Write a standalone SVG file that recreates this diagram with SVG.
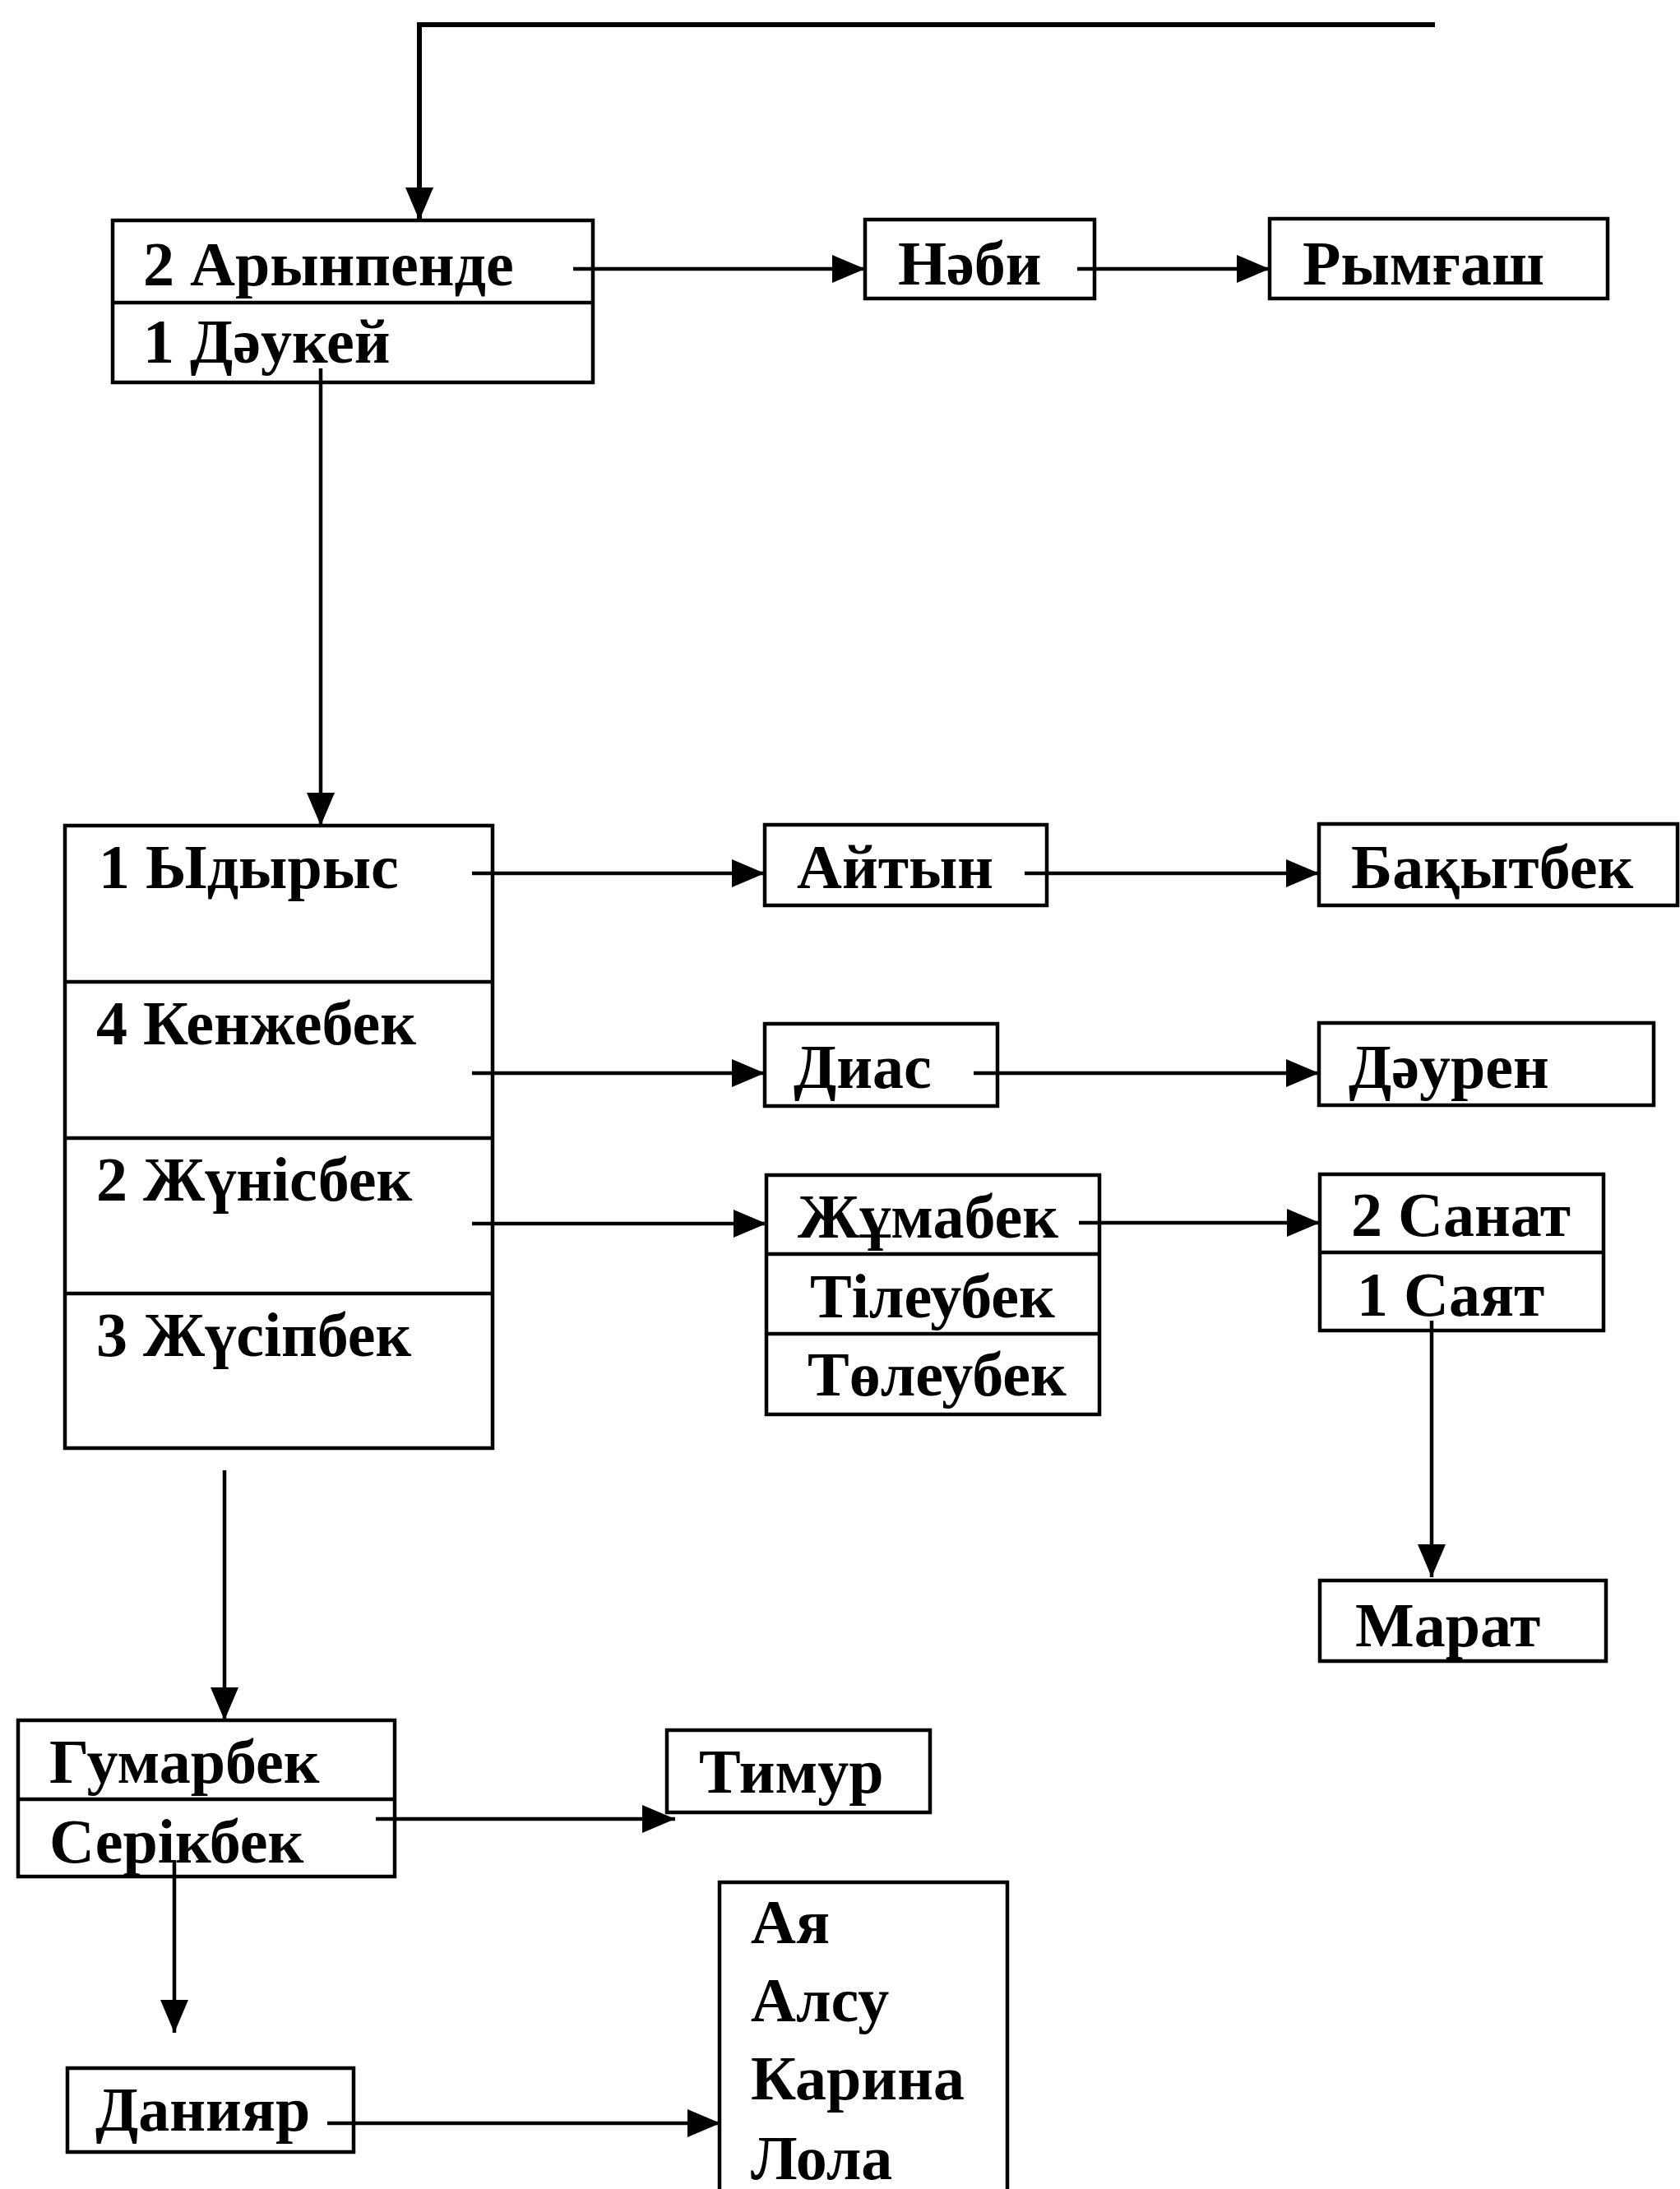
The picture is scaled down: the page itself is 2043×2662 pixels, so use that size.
<svg xmlns="http://www.w3.org/2000/svg" width="2043" height="2662" viewBox="0 0 2043 2662">
<style>
.box{fill:none;stroke:#000;stroke-width:4.5}
.div{stroke:#000;stroke-width:4.5}
.t{font-family:"Liberation Serif","Times New Roman",serif;font-size:76px;font-weight:bold;fill:#000}
.c{fill:none;stroke:#000;stroke-width:4.5}
</style>
<defs>
<marker id="ah" markerUnits="userSpaceOnUse" markerWidth="42" markerHeight="34" refX="40" refY="17" orient="auto">
<path d="M0,0 L40,17 L0,34 z" fill="#000"/>
</marker>
</defs>
<rect width="2043" height="2662" fill="#fff"/>

<g id="n-arynpende">
<rect class="box" x="137" y="268" width="584" height="197"/>
<line class="div" x1="137" y1="368" x2="721" y2="368"/>
<text class="t" x="174" y="347">2 Арынпенде</text>
<text class="t" x="174" y="441">1 Дәукей</text>
</g>
<g id="n-nabi">
<rect class="box" x="1052" y="267" width="279" height="96"/>
<text class="t" x="1092" y="346">Нәби</text>
</g>
<g id="n-rymgash">
<rect class="box" x="1544" y="266" width="411" height="97"/>
<text class="t" x="1584" y="346">Рымғаш</text>
</g>

<g id="n-ydyrys">
<rect class="box" x="79" y="1004" width="520" height="757"/>
<line class="div" x1="79" y1="1194" x2="599" y2="1194"/>
<line class="div" x1="79" y1="1384" x2="599" y2="1384"/>
<line class="div" x1="79" y1="1573" x2="599" y2="1573"/>
<text class="t" x="120" y="1080">1 Ыдырыс</text>
<text class="t" x="117" y="1270">4 Кенжебек</text>
<text class="t" x="117" y="1460">2 Жүнісбек</text>
<text class="t" x="117" y="1649">3 Жүсіпбек</text>
</g>
<g id="n-aityn">
<rect class="box" x="930" y="1003" width="343" height="98"/>
<text class="t" x="969" y="1080">Айтын</text>
</g>
<g id="n-bakytbek">
<rect class="box" x="1604" y="1002" width="436" height="99"/>
<text class="t" x="1643" y="1080">Бақытбек</text>
</g>
<g id="n-dias">
<rect class="box" x="930" y="1245" width="283" height="100"/>
<text class="t" x="965" y="1323">Диас</text>
</g>
<g id="n-dauren">
<rect class="box" x="1604" y="1244" width="407" height="100"/>
<text class="t" x="1640" y="1323">Дәурен</text>
</g>
<g id="n-zhumabek">
<rect class="box" x="932" y="1429" width="405" height="291"/>
<line class="div" x1="932" y1="1525" x2="1337" y2="1525"/>
<line class="div" x1="932" y1="1622" x2="1337" y2="1622"/>
<text class="t" x="970" y="1505">Жұмабек</text>
<text class="t" x="985" y="1602">Тілеубек</text>
<text class="t" x="982" y="1697">Төлеубек</text>
</g>
<g id="n-sanat">
<rect class="box" x="1605" y="1428" width="345" height="190"/>
<line class="div" x1="1605" y1="1523" x2="1950" y2="1523"/>
<text class="t" x="1643" y="1503">2 Санат</text>
<text class="t" x="1650" y="1600">1 Саят</text>
</g>
<g id="n-marat">
<rect class="box" x="1605" y="1922" width="348" height="98"/>
<text class="t" x="1648" y="2002">Марат</text>
</g>
<g id="n-gumarbek">
<rect class="box" x="22" y="2092" width="458" height="190"/>
<line class="div" x1="22" y1="2188" x2="480" y2="2188"/>
<text class="t" x="60" y="2168">Гумарбек</text>
<text class="t" x="60" y="2265">Серікбек</text>
</g>
<g id="n-timur">
<rect class="box" x="811" y="2104" width="320" height="100"/>
<text class="t" x="850" y="2180">Тимур</text>
</g>
<g id="n-daniyar">
<rect class="box" x="82" y="2515" width="348" height="102"/>
<text class="t" x="116" y="2591">Данияр</text>
</g>
<g id="n-aya">
<rect class="box" x="875" y="2289" width="350" height="390"/>
<text class="t" x="913" y="2363">Ая</text>
<text class="t" x="913" y="2458">Алсу</text>
<text class="t" x="913" y="2553">Карина</text>
<text class="t" x="913" y="2650">Лола</text>
</g>

<g id="connectors">
<path class="c" style="stroke-width:6" d="M1745,30 H510 V268" marker-end="url(#ah)"/>
<path class="c" d="M697,327 H1052" marker-end="url(#ah)"/>
<path class="c" d="M1310,327 H1544" marker-end="url(#ah)"/>
<path class="c" d="M390,448 V1004" marker-end="url(#ah)"/>
<path class="c" d="M574,1062 H930" marker-end="url(#ah)"/>
<path class="c" d="M1246,1062 H1604" marker-end="url(#ah)"/>
<path class="c" d="M574,1305 H930" marker-end="url(#ah)"/>
<path class="c" d="M1184,1305 H1604" marker-end="url(#ah)"/>
<path class="c" d="M574,1488 H932" marker-end="url(#ah)"/>
<path class="c" d="M1312,1487 H1605" marker-end="url(#ah)"/>
<path class="c" d="M1741,1606 V1918" marker-end="url(#ah)"/>
<path class="c" d="M273,1788 V2092" marker-end="url(#ah)"/>
<path class="c" d="M457,2212 H821" marker-end="url(#ah)"/>
<path class="c" d="M212,2262 V2472" marker-end="url(#ah)"/>
<path class="c" d="M398,2582 H876" marker-end="url(#ah)"/>
</g>
</svg>
